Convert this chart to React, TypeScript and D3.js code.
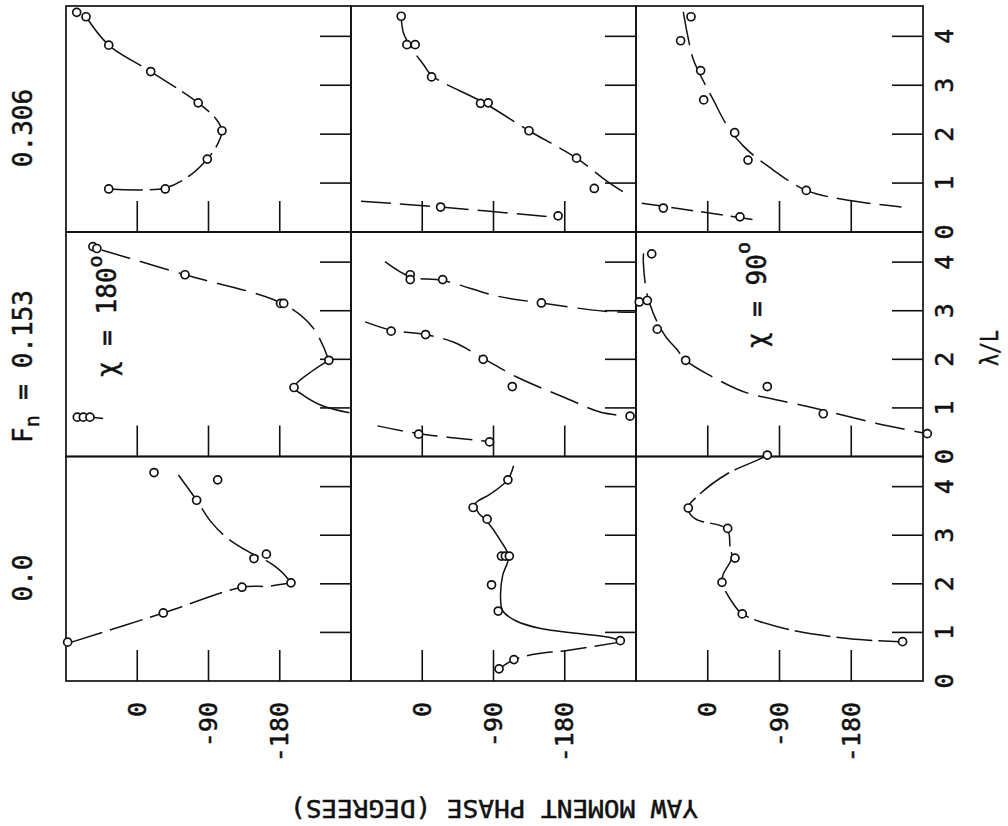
import React from 'react';
import * as d3 from 'd3';

// ---------- data (phase in degrees, lambda/L) ----------
const phaseTicks = [0, -90, -180];
const phaseTickLabels = ['0', '-90', '-180'];
const lambdaTicks = [1, 2, 3, 4];
const lambdaTickLabels = ['0', '1', '2', '3', '4'];
const rowLabels = ['0.306', '0.153', '0.0'];
const chiLabels = ['180', '90'];

// Fn = 0.306, chi = 180
const p00Points = [[76.5,4.49],[64.7,4.40],[36,3.82],[-17,3.28],[-77,2.64],[-107,2.07],[-88.5,1.49],[-35.4,0.88],[36,0.88]];
const p00Curve = [[36,0.88],[-35.4,0.90],[-70,1.2],[-88.5,1.49],[-100,1.75],[-107,2.07],[-100,2.3],[-77,2.64],[-17,3.28],[36,3.82],[64.7,4.40]];
// Fn = 0.306, middle
const p01Points = [[26.6,4.41],[19.4,3.83],[8.9,3.83],[-11.8,3.17],[-73.6,2.63],[-83.3,2.64],[-134.8,2.07],[-194.9,1.51],[-217.3,0.89],[-23.2,0.51],[-171.6,0.33]];
const p01CurveA = [[26.6,4.41],[23.7,4.07],[12,3.72],[-1.7,3.42],[-11.8,3.2],[-78,2.64],[-134.8,2.07],[-194.9,1.51],[-234,1.03],[-257,0.79]];
const p01CurveB = [[77.3,0.63],[-23.2,0.51],[-160,0.31]];
// Fn = 0.306, chi = 90
const p02Points = [[21,4.40],[34,3.91],[8.9,3.30],[5.1,2.70],[-33.8,2.03],[-50.5,1.47],[-123.6,0.85],[55.7,0.49],[-40.4,0.31]];
const p02CurveA = [[30.7,4.5],[25,4.0],[18,3.52],[9.7,3.22],[-7,2.70],[-23.7,2.19],[-45,1.75],[-76,1.34],[-123.6,0.85],[-180.5,0.64],[-243,0.51]];
const p02CurveB = [[82.9,0.59],[-59,0.25]];
// Fn = 0.153, chi = 180
const p10Points = [[56,4.32],[51,4.28],[-60.3,3.74],[-181,3.15],[-185,3.15],[-242,1.98],[-198,1.42],[75.7,0.81],[68.1,0.81],[59.7,0.81]];
const p10CurveA = [[45,4.25],[-60.3,3.74],[-183,3.15],[-222,2.65],[-242,1.98]];
const p10CurveB = [[-242,1.98],[-222,1.77],[-198,1.42],[-208,1.28],[-233,1.05],[-268,0.9]];
const p10CurveC = [[57,0.81],[43,0.78]];
// Fn = 0.153, middle
const p11Points = [[15.2,3.74],[15.2,3.64],[-25.8,3.64],[-150.5,3.16],[39.3,2.58],[-4.2,2.51],[-77,2.0],[-113.7,1.44],[-262.5,0.83],[4.6,0.46],[-85,0.30]];
const p11CurveA = [[47,4.01],[15.2,3.7],[-25.8,3.62],[-94.7,3.30],[-150.5,3.16],[-230,2.99],[-270,2.97]];
const p11CurveB = [[72,2.77],[39.3,2.6],[-4.2,2.51],[-40,2.35],[-77,2.02],[-120,1.63],[-179,1.22],[-225.7,0.91],[-262.5,0.83]];
const p11CurveC = [[56.6,0.63],[4.6,0.47],[-85,0.31]];
// Fn = 0.153, chi = 90
const p12Points = [[70.3,4.17],[85.9,3.18],[75.8,3.21],[63.3,2.62],[27.7,1.98],[-74.7,1.44],[-144.9,0.88],[-275.4,0.47]];
const p12Curve = [[80.5,4.18],[80.8,4.0],[77,3.4],[72.4,3.13],[63,2.75],[51.5,2.44],[39,2.21],[27.7,1.98],[-7,1.63],[-36.3,1.39],[-53,1.29],[-128,1.02],[-212,0.68],[-272,0.48]];
// Fn = 0.0, chi = 180
const p20Points = [[87.9,0.80],[-32.9,1.40],[-132.3,1.93],[-194.2,2.02],[-147.4,2.52],[-163.1,2.61],[-21.2,4.29],[-101.6,4.14],[-75,3.72]];
const p20CurveA = [[85,0.79],[-32.9,1.40],[-132.3,1.93],[-165,1.95],[-194.2,2.02]];
const p20CurveB = [[-194.2,2.02],[-185,2.2],[-175,2.35],[-159.5,2.51],[-142.7,2.64],[-113,2.95],[-92,3.3],[-75,3.72],[-52,4.24]];
// Fn = 0.0, middle
const p21Points = [[-108.2,4.14],[-64.3,3.57],[-82,3.33],[-100,2.57],[-105,2.57],[-110,2.57],[-87.5,1.98],[-96,1.44],[-250.2,0.83],[-115.8,0.44],[-97,0.25]];
const p21CurveA = [[-115.4,4.43],[-107.8,4.14],[-86.3,3.85],[-67.2,3.65],[-71,3.46],[-81.2,3.30],[-98.9,2.89],[-109,2.56],[-101.5,2.17],[-98.9,1.76],[-101.5,1.45],[-118,1.24],[-149.6,1.08],[-238.4,0.89],[-249.8,0.83]];
const p21CurveB = [[-250,0.80],[-183,0.63],[-141,0.55],[-115.8,0.44],[-97,0.25]];
// Fn = 0.0, chi = 90
const p22Points = [[-74.7,4.65],[24.4,3.56],[-25,3.14],[-34.2,2.53],[-17.9,2.03],[-43.3,1.38],[-244.4,0.81]];
const p22Curve = [[-74.7,4.65],[-65.5,4.57],[-24.1,4.26],[9.7,3.85],[24.8,3.56],[16,3.34],[-24.1,3.13],[-27.9,2.78],[-30,2.53],[-19.5,2.20],[-17.9,2.03],[-32,1.59],[-43.3,1.38],[-99,1.07],[-178.4,0.87],[-241,0.81]];

// ---------- layout ----------
const W = 1008, H = 826;
const colEdges = [66, 351, 636, 923];
const rowEdges = [6, 232, 456.5, 681];
const lambdaMax = 4.62;
const FONT = "'DejaVu Sans Mono', 'Liberation Mono', monospace";

type Pt = number[];
interface Curve { d: Pt[]; dash: string | null; }
interface Panel { row: number; col: number; points: Pt[]; curves: Curve[]; }

const panels: Panel[] = [
  { row: 0, col: 0, points: p00Points, curves: [{ d: p00Curve, dash: '34,7' }] },
  { row: 0, col: 1, points: p01Points, curves: [{ d: p01CurveA, dash: '34,9' }, { d: p01CurveB, dash: '30,9' }] },
  { row: 0, col: 2, points: p02Points, curves: [{ d: p02CurveA, dash: '34,9' }, { d: p02CurveB, dash: '22,8' }] },
  { row: 1, col: 0, points: p10Points, curves: [{ d: p10CurveA, dash: '30,10' }, { d: p10CurveB, dash: null }, { d: p10CurveC, dash: null }] },
  { row: 1, col: 1, points: p11Points, curves: [{ d: p11CurveA, dash: '30,10' }, { d: p11CurveB, dash: '30,10' }, { d: p11CurveC, dash: '26,9' }] },
  { row: 1, col: 2, points: p12Points, curves: [{ d: p12Curve, dash: '30,10' }] },
  { row: 2, col: 0, points: p20Points, curves: [{ d: p20CurveA, dash: '34,8' }, { d: p20CurveB, dash: '34,8' }] },
  { row: 2, col: 1, points: p21Points, curves: [{ d: p21CurveA, dash: null }, { d: p21CurveB, dash: '26,8' }] },
  { row: 2, col: 2, points: p22Points, curves: [{ d: p22Curve, dash: '36,6' }] },
];

function xScale(col: number) {
  return d3.scaleLinear().domain([90, -270]).range([colEdges[col], colEdges[col + 1]]);
}
function yScale(row: number) {
  return d3.scaleLinear().domain([0, lambdaMax]).range([rowEdges[row + 1], rowEdges[row]]);
}

const textStyle = { fill: '#111', stroke: '#111', strokeWidth: 0.5 };

export default function App() {
  const tickLen = 31;
  return (
    <svg width={W} height={H} style={{ position: 'absolute', left: 0, top: 0, background: '#fff' }}
      fontFamily={FONT}>
      <rect x={0} y={0} width={W} height={H} fill="#fff" />
      {panels.map((p, i) => {
        const x = xScale(p.col);
        const y = yScale(p.row);
        const line = d3.line<Pt>().x(d => x(d[0])).y(d => y(d[1])).curve(d3.curveCatmullRom.alpha(0.5));
        const x0 = colEdges[p.col], x1 = colEdges[p.col + 1];
        const y0 = rowEdges[p.row], y1 = rowEdges[p.row + 1];
        return (
          <g key={i}>
            <rect x={x0} y={y0} width={x1 - x0} height={y1 - y0} fill="none" stroke="#111" strokeWidth={1.7} />
            {phaseTicks.map(t => (
              <line key={'pt' + t} x1={x(t)} x2={x(t)} y1={y1} y2={y1 - tickLen} stroke="#111" strokeWidth={1.6} />
            ))}
            {lambdaTicks.map(t => (
              <line key={'lt' + t} x1={x1} x2={x1 - tickLen} y1={y(t)} y2={y(t)} stroke="#111" strokeWidth={1.6} />
            ))}
            {p.curves.map((c, j) => (
              <path key={'c' + j} d={line(c.d) || ''} fill="none" stroke="#111" strokeWidth={1.5}
                strokeDasharray={c.dash || undefined} />
            ))}
            {p.points.map((d, j) => (
              <circle key={'p' + j} cx={x(d[0])} cy={y(d[1])} r={4} fill="#fff" stroke="#111" strokeWidth={1.7} />
            ))}
          </g>
        );
      })}
      {/* bottom phase tick labels */}
      {[0, 1, 2].map(col => {
        const x = xScale(col);
        return phaseTicks.map((t, k) => (
          <text key={'bl' + col + k} transform={`translate(${x(t)},702) rotate(-90)`} textAnchor="end"
            dominantBaseline="central" fontSize={25} {...textStyle}>{phaseTickLabels[k]}</text>
        ));
      })}
      {/* right lambda tick labels */}
      {[0, 1, 2].map(row => {
        const y = yScale(row);
        return lambdaTickLabels.map((lab, k) => (
          <text key={'rl' + row + k} transform={`translate(944,${y(k)}) rotate(-90)`} textAnchor="middle"
            dominantBaseline="central" fontSize={25} {...textStyle}>{lab}</text>
        ));
      })}
      <text transform="translate(989,348) rotate(-90)" textAnchor="middle" dominantBaseline="central"
        fontSize={25} {...textStyle} textLength={36} lengthAdjust="spacingAndGlyphs">λ/L</text>
      {/* row labels */}
      <text transform="translate(23,128) rotate(-90)" textAnchor="middle" dominantBaseline="central"
        fontSize={26} {...textStyle}>{rowLabels[0]}</text>
      <text transform="translate(23,443) rotate(-90)" textAnchor="start" dominantBaseline="central"
        fontSize={26} {...textStyle}>F<tspan fontSize={20} dy={9}>n</tspan><tspan dy={-9}> = {rowLabels[1]}</tspan></text>
      <text transform="translate(23,578) rotate(-90)" textAnchor="middle" dominantBaseline="central"
        fontSize={26} {...textStyle}>{rowLabels[2]}</text>
      {/* chi labels */}
      <text transform="translate(107,377) rotate(-90)" textAnchor="start" dominantBaseline="central"
        fontSize={26} {...textStyle}>χ = {chiLabels[0]}<tspan fontSize={20} dy={-12}>o</tspan></text>
      <text transform="translate(757,348) rotate(-90)" textAnchor="start" dominantBaseline="central"
        fontSize={26} {...textStyle}>χ = {chiLabels[1]}<tspan fontSize={20} dy={-14}>o</tspan></text>
      {/* y title, upside down */}
      <text transform="translate(494,808) rotate(180)" textAnchor="middle" dominantBaseline="central"
        fontSize={25} {...textStyle} textLength={408} lengthAdjust="spacingAndGlyphs">YAW MOMENT PHASE (DEGREES)</text>
    </svg>
  );
}
